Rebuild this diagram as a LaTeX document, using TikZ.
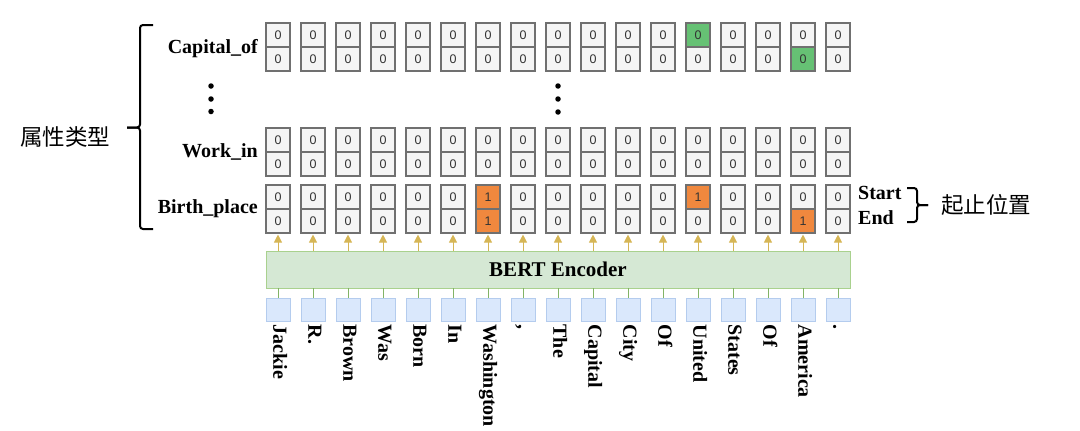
\documentclass[tikz,border=0pt]{standalone}
\usepackage{fontspec}
\setmainfont{Liberation Serif}
\newfontfamily\cellfont{Liberation Sans}
\newfontfamily\cjk{Noto Sans CJK SC}
\usetikzlibrary{arrows.meta}
\definecolor{cellfill}{HTML}{F5F5F5}
\definecolor{cellborder}{HTML}{707070}
\definecolor{celltext}{HTML}{333333}
\definecolor{hgreen}{HTML}{66C174}
\definecolor{horange}{HTML}{F0883E}
\definecolor{encfill}{HTML}{D5E8D4}
\definecolor{encdraw}{HTML}{A9D18E}
\definecolor{tokfill}{HTML}{DAE8FC}
\definecolor{tokdraw}{HTML}{B4CCEE}
\definecolor{arrcol}{HTML}{D6B656}
\definecolor{linegreen}{HTML}{82B366}
\begin{document}
\begin{tikzpicture}[x=1pt,y=-1pt,
  cell/.style={draw=cellborder, line width=1.1pt, fill=cellfill, minimum width=24pt, minimum height=24pt, inner sep=0pt, font=\cellfont\fontsize{12.5}{14}\selectfont, text=celltext},
  p/.style={},
  g/.style={fill=hgreen},
  o/.style={fill=horange},
  lab/.style={font=\bfseries\fontsize{20}{22}\selectfont, inner sep=0pt},
  word/.style={font=\bfseries\fontsize{20}{22}\selectfont, inner sep=0pt, text height=13.5pt, text depth=4pt, rotate=-90, anchor=west},
  tokbox/.style={draw=tokdraw, line width=0.8pt, fill=tokfill, minimum width=24pt, minimum height=23pt, inner sep=0pt},
  enc/.style={draw=encdraw, line width=0.8pt, fill=encfill, minimum width=584pt, minimum height=37pt, inner sep=0pt, font=\bfseries\fontsize{21}{24}\selectfont},
  uparrow/.style={draw=arrcol, line width=1pt, -{Triangle[width=8pt,length=8pt]}},
  tokline/.style={draw=linegreen, line width=0.8pt},
  dot/.style={circle, fill=black, minimum size=5.5pt, inner sep=0pt},
  brace/.style={draw=black, line width=2pt, rounded corners=3pt},
  cjklab/.style={font=\cjk\fontsize{22.5}{26}\selectfont, inner sep=0pt}
]
\useasboundingbox (0,0) rectangle (1080,431);

% encoder
\node[enc] (enc) at (558,269.5) {BERT Encoder};

% columns
\foreach \k/\a/\b/\c/\d/\cv/\dv/\w in {
  0/p/p/p/p/0/0/Jackie, 1/p/p/p/p/0/0/R., 2/p/p/p/p/0/0/Brown, 3/p/p/p/p/0/0/Was,
  4/p/p/p/p/0/0/Born, 5/p/p/p/p/0/0/In, 6/p/p/o/o/1/1/Washington, 7/p/p/p/p/0/0/{,},
  8/p/p/p/p/0/0/The, 9/p/p/p/p/0/0/Capital, 10/p/p/p/p/0/0/City, 11/p/p/p/p/0/0/Of,
  12/g/p/o/p/1/0/United, 13/p/p/p/p/0/0/States, 14/p/p/p/p/0/0/Of, 15/p/g/p/o/0/1/America,
  16/p/p/p/p/0/0/.}{
  \pgfmathsetmacro\cx{278+35*\k}
  \node[cell,\a] (capT\k) at (\cx,35) {0};
  \node[cell,\b] (capB\k) at (\cx,59) {0};
  \node[cell] (wrkT\k) at (\cx,140) {0};
  \node[cell] (wrkB\k) at (\cx,164) {0};
  \node[cell,\c] (brtT\k) at (\cx,197) {\cv};
  \node[cell,\d] (brtB\k) at (\cx,221) {\dv};
  \node[tokbox] (tok\k) at (\cx,309.5) {};
  \node[word] (word\k) at ([yshift=-3pt]tok\k.south) {\w};
  \draw[uparrow] (enc.north -| brtB\k.south) -- ([yshift=-1pt]brtB\k.south);
  \draw[tokline] (tok\k.north) -- (tok\k.north |- enc.south);
}

% row labels
\node[lab, anchor=base east] (lcap) at (258,53) {Capital\_of};
\node[lab, anchor=base east] (lwrk) at (258,157) {Work\_in};
\node[lab, anchor=base east] (lbrt) at (258,213) {Birth\_place};
\node[lab, anchor=base west] (lstart) at (858,199) {Start};
\node[lab, anchor=base west] (lend) at (858,224) {End};

% dots
\node[dot] (dl1) at (211,86) {};
\node[dot] (dl2) at (211,99) {};
\node[dot] (dl3) at (211,111.5) {};
\node[dot] (dm1) at (558,86) {};
\node[dot] (dm2) at (558,99) {};
\node[dot] (dm3) at (558,112) {};

% braces
\draw[brace] (153,25) -- (140,25) -- (140,127.5) -- (127,127.5);
\draw[brace] (127,127.5) -- (140,127.5) -- (140,229) -- (153,229);
\draw[brace] (907,188) -- (917,188) -- (917,205) -- (928,205);
\draw[brace] (928,205) -- (917,205) -- (917,222) -- (907,222);

% CJK labels
\node[cjklab] (attr) at (65,137) {属性类型};
\node[cjklab] (pos) at (986,205) {起止位置};
\end{tikzpicture}
\end{document}
